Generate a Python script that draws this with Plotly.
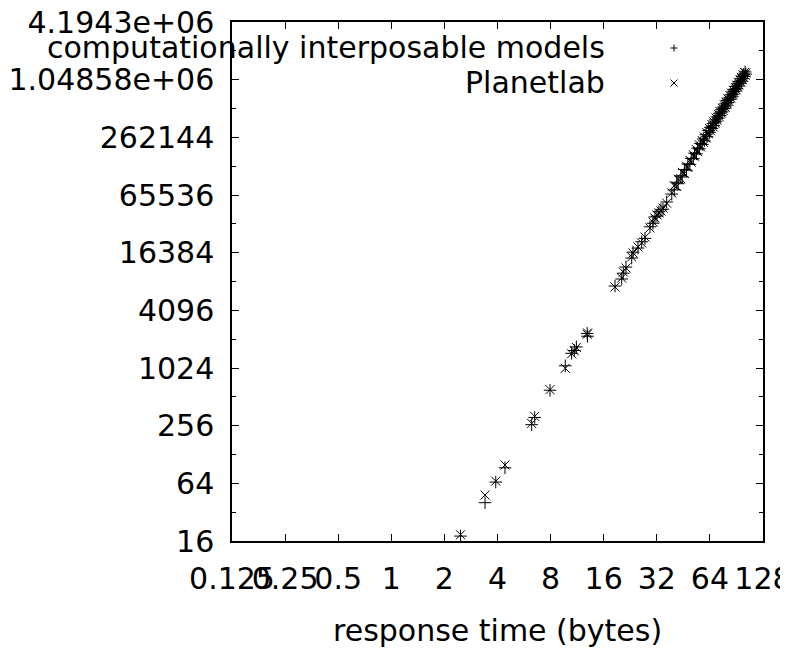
import plotly.graph_objects as go

# ---- tick definitions ----
x_ticks = [0.125, 0.25, 0.5, 1, 2, 4, 8, 16, 32, 64, 128]
x_tick_labels = ["0.125", "0.25", "0.5", "1", "2", "4", "8", "16", "32", "64", "128"]
y_ticks = [16, 64, 256, 1024, 4096, 16384, 65536, 262144, 1048576, 4194304]
y_tick_labels = ["16", "64", "256", "1024", "4096", "16384", "65536", "262144",
                 "1.04858e+06", "4.1943e+06"]
y_minor_ticks = [32, 128, 512, 2048, 8192, 32768, 131072, 524288, 2097152]

# ---- data ----
response_time = [
    2.47, 3.40, 3.91, 4.41, 6.25, 6.50, 7.94, 9.69, 10.53, 10.9, 11.2, 12.9, 12.95,
    18.55, 20.24, 20.66, 21.4, 23.06, 23.46, 25.04, 26.28, 27.44, 29.28, 30.45,
    31.25, 32.09, 32.93, 33.8, 34.7, 36.4, 38.9,
    40.2, 41.5, 42.3, 43.8, 44.6, 45.9, 47.1, 48.0, 49.3, 50.2, 51.6, 52.4, 53.7,
    54.5, 55.8, 56.6, 57.9, 58.7, 59.5, 60.8, 61.6, 62.9, 63.7, 64.5, 65.8, 66.6,
    67.3, 68.5, 69.4, 70.2, 71.5, 72.3, 73.1, 74.4, 75.2, 76.0, 77.3, 78.1, 79.0,
    80.2, 81.1, 82.0, 83.3, 84.1, 85.0, 86.2, 87.0, 87.9, 89.1, 90.0, 90.8, 92.0,
    92.9, 93.7, 94.9, 95.8, 96.6, 97.8, 98.7, 99.5, 100.6, 101.4, 102.3,
]

models_size = [
    18.0, 40.2, 66, 93, 262, 312, 600, 1080, 1458, 1560, 1700, 2350, 2200,
    7350, 8700, 10000, 11600, 14400, 16600, 18300, 21300, 23100, 30500, 33200,
    38700, 39500, 43800, 46000, 46600, 55400, 67000,
    74000, 89000, 86000, 104000, 101000, 121000, 119000, 138000, 137000, 158000,
    157000, 179000, 176000, 202000, 199000, 226000, 221000, 252000, 241000, 279000,
    266000, 309000, 296000, 333000, 325000, 366000, 348000, 398000, 381000, 428000,
    416000, 467000, 444000, 508000, 483000, 541000, 524000, 586000, 559000, 634000,
    604000, 676000, 654000, 728000, 694000, 783000, 743000, 829000, 797000, 889000,
    843000, 948000, 902000, 1000000, 960000, 1068000, 1012000, 1135000, 1078000,
    1194000, 1141000, 1262000, 1200000,
]

planetlab_size = [
    18.6, 48.3, 67.5, 99.5, 270, 320, 608, 1017, 1440, 1550, 1680, 2300, 2380,
    7190, 8910, 10300, 11340, 14770, 16270, 18800, 20700, 23840, 29700, 34200,
    37700, 40600, 42600, 44700, 47900, 53900, 68800,
    82000, 80500, 95500, 97000, 113000, 110000, 131000, 127000, 151000, 144000,
    172000, 166000, 195000, 186000, 219000, 208000, 243000, 233000, 265000, 258000,
    293000, 286000, 324000, 307000, 356000, 338000, 381000, 367000, 417000, 396000,
    455000, 431000, 486000, 469000, 528000, 499000, 573000, 541000, 611000, 585000,
    660000, 624000, 714000, 672000, 758000, 723000, 812000, 766000, 871000, 821000,
    921000, 876000, 985000, 925000, 1050000, 988000, 1106000, 1050000, 1179000,
    1105000, 1248000, 1168000, 1230000,
]

series_names = ["computationally interposable models", "Planetlab"]

# ---- layout geometry ----
# The page body has an 8px margin, so the figure is offset by 8px;
# target plot box on the page: x 232..763, y 22..541
W, H = 788, 649
OFF = 8
PL, PT, PR, PB = 232, 22, 763, 541
PW, PH = PR - PL, PB - PT
L, T = PL - OFF, PT - OFF
R, B = W - L - PW, H - T - PH

def px_x(px):
    return (px - PL) / PW

def px_y(py):
    return (PB - py) / PH

FONT = "DejaVu Sans"
FS = 30

fig = go.Figure()
fig.add_trace(go.Scatter(
    x=response_time, y=models_size, mode="markers", name=series_names[0],
    marker=dict(symbol="cross-thin", size=9, line=dict(width=1, color="black"),
                color="black"),
    showlegend=False, cliponaxis=False,
))
fig.add_trace(go.Scatter(
    x=response_time, y=planetlab_size, mode="markers", name=series_names[1],
    marker=dict(symbol="x-thin", size=9, line=dict(width=1, color="black"),
                color="black"),
    showlegend=False, cliponaxis=False,
))

axis_common = dict(
    showgrid=False, zeroline=False, showline=True, linecolor="black", linewidth=1.5,
    mirror="ticks", ticks="inside", tickcolor="black", tickwidth=1,
    tickfont=dict(family=FONT, size=FS, color="black"),
    automargin=False, ticklabeloverflow="allow",
)

fig.update_xaxes(
    type="log", range=[-0.9031, 2.1073],
    tickmode="array", tickvals=x_ticks, ticktext=x_tick_labels, tickangle=0,
    ticklen=7, ticklabelstandoff=10, **axis_common,
)
fig.update_yaxes(
    type="log", range=[1.20412, 6.62266],
    tickmode="array", tickvals=y_ticks, ticktext=y_tick_labels,
    ticklen=7, ticklabelstandoff=10,
    minor=dict(tickmode="array", tickvals=y_minor_ticks, ticklen=4,
               ticks="inside", tickcolor="black", tickwidth=1),
    **axis_common,
)

annotations = [
    dict(text="response time (bytes)", xref="paper", yref="paper",
         x=0.5, y=px_y(630), xanchor="center", yanchor="middle", showarrow=False,
         font=dict(family=FONT, size=FS, color="black")),
    dict(text=series_names[0], xref="paper", yref="paper",
         x=px_x(607), y=px_y(47), xanchor="right", yanchor="middle", showarrow=False,
         font=dict(family=FONT, size=FS, color="black")),
    dict(text=series_names[1], xref="paper", yref="paper",
         x=px_x(607), y=px_y(83), xanchor="right", yanchor="middle", showarrow=False,
         font=dict(family=FONT, size=FS, color="black")),
]

# legend sample symbols (+ and x) drawn as small line shapes
hs = 3.5
mx = 674
shapes = [
    dict(type="line", xref="paper", yref="paper", x0=px_x(mx - hs), x1=px_x(mx + hs),
         y0=px_y(48), y1=px_y(48), line=dict(color="black", width=1)),
    dict(type="line", xref="paper", yref="paper", x0=px_x(mx), x1=px_x(mx),
         y0=px_y(48 - hs), y1=px_y(48 + hs), line=dict(color="black", width=1)),
    dict(type="line", xref="paper", yref="paper", x0=px_x(mx - hs), x1=px_x(mx + hs),
         y0=px_y(83 - hs), y1=px_y(83 + hs), line=dict(color="black", width=1)),
    dict(type="line", xref="paper", yref="paper", x0=px_x(mx - hs), x1=px_x(mx + hs),
         y0=px_y(83 + hs), y1=px_y(83 - hs), line=dict(color="black", width=1)),
]

fig.update_layout(
    width=W, height=H,
    margin=dict(l=L, r=R, t=T, b=B, autoexpand=False),
    paper_bgcolor="white", plot_bgcolor="white",
    annotations=annotations, shapes=shapes,
    showlegend=False,
    font=dict(family=FONT, size=FS, color="black"),
)

fig.write_html("out.html")
